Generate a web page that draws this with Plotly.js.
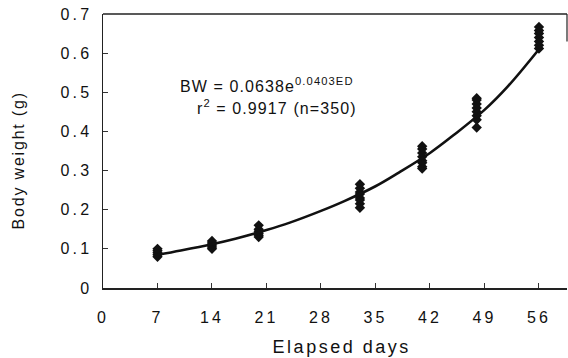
<!DOCTYPE html>
<html><head><meta charset="utf-8">
<script src="https://cdn.plot.ly/plotly-3.0.1.min.js"></script>
<style>
html,body{margin:0;padding:0;background:#fff;}
.xtick text,.ytick text{letter-spacing:3.2px;}
.annotation-text{letter-spacing:1.1px;}
.annotation.ytitle-ann .annotation-text{letter-spacing:1.8px;}
.annotation.xtitle-ann .annotation-text{letter-spacing:2.5px;}
</style>
</head><body>
<div id="chart" style="width:568px;height:358px;"></div>
<script>
// Observed body weights (g) per sampling day
const obsDays = [7,7,7,7,7, 14,14,14,14,14, 20,20,20,20,20,20, 33,33,33,33,33,33,33,33, 41,41,41,41,41,41,41,41, 48,48,48,48,48,48,48,48, 56,56,56,56,56,56,56];
const obsWeights = [0.080,0.085,0.090,0.095,0.100, 0.100,0.105,0.110,0.115,0.120, 0.130,0.135,0.140,0.145,0.150,0.160, 0.205,0.215,0.225,0.230,0.240,0.245,0.255,0.265, 0.305,0.310,0.320,0.325,0.335,0.345,0.355,0.362, 0.410,0.430,0.440,0.450,0.460,0.470,0.480,0.485, 0.612,0.620,0.630,0.640,0.650,0.658,0.667];
// Fitted curve
const fitDays = [7,10,14,17,21,24,28,31,35,38,42,45,49,52,56];
const fitWeights = [0.085,0.096,0.112,0.126,0.148,0.167,0.197,0.222,0.260,0.295,0.345,0.390,0.455,0.515,0.610];
const xTicks = [0,7,14,21,28,35,42,49,56];
const yTicks = [0,0.1,0.2,0.3,0.4,0.5,0.6,0.7];
const yTickText = ['0','0.1','0.2','0.3','0.4','0.5','0.6','0.7'];
const xTitle = 'Elapsed days';
const yTitle = 'Body weight (g)';
const eqLine1 = 'BW = 0.0638e<sup>0.0403ED</sup>';
const eqLine2 = 'r<sup>2</sup> = 0.9917 (n=350)';

const fam = '"Liberation Sans", Arial, sans-serif';
const ink = '#111';

const traces = [
  {x: obsDays, y: obsWeights, mode:'markers', type:'scatter',
   marker:{symbol:'diamond', size:8, color:ink}, hoverinfo:'skip'},
  {x: fitDays, y: fitWeights, mode:'lines', type:'scatter', line:{shape:'spline', color:ink, width:2.6}, hoverinfo:'skip'}
];

const layout = {
  width:568, height:358,
  margin:{l:103, r:1, t:14, b:70},
  paper_bgcolor:'#fff', plot_bgcolor:'#fff',
  showlegend:false,
  font:{family:fam, color:ink, size:16},
  xaxis:{range:[0,59.6], tickvals:xTicks, ticktext:xTicks.map(String), ticks:'inside', ticklen:5, tickcolor:'#333',
    showgrid:false, zeroline:false, showline:true, linecolor:'#222', linewidth:1.5,
    tickfont:{family:fam, size:16, color:ink}, ticklabelstandoff:14},
  yaxis:{range:[0,0.7], tickvals:yTicks, ticktext:yTickText, ticks:'inside', ticklen:5, tickcolor:'#333',
    showgrid:false, zeroline:false, showline:true, linecolor:'#222', linewidth:1.5,
    tickfont:{family:fam, size:16, color:ink}, ticklabelstandoff:6},
  shapes:[
    {type:'line', xref:'paper', yref:'paper', x0:0, x1:1, y0:1, y1:1, line:{color:'#222', width:1.5}},
    {type:'line', xref:'paper', yref:'paper', x0:1, x1:1, y0:1, y1:0.9, line:{color:'#222', width:1.2}}
  ],
  annotations:[
    {xref:'x', yref:'y', x:9.6, y:0.518, xanchor:'left', yanchor:'middle', showarrow:false,
     text:eqLine1, font:{family:fam, size:16, color:ink}},
    {xref:'x', yref:'y', x:11.8, y:0.462, xanchor:'left', yanchor:'middle', showarrow:false,
     text:eqLine2, font:{family:fam, size:16, color:ink}},
    {xref:'paper', yref:'paper', x:0.514, y:-0.215, xanchor:'center', yanchor:'middle', showarrow:false,
     text:xTitle, font:{family:fam, size:18, color:ink}},
    {xref:'paper', yref:'paper', x:-0.183, y:0.467, xanchor:'center', yanchor:'middle', showarrow:false, textangle:-90,
     text:yTitle, font:{family:fam, size:16, color:ink}}
  ]
};
Plotly.newPlot('chart', traces, layout, {staticPlot:true, displayModeBar:false}).then(function(){
  const anns = document.querySelectorAll('.annotation');
  if (anns.length >= 4) { anns[2].classList.add('xtitle-ann'); anns[3].classList.add('ytitle-ann'); }
});
</script>
</body></html>
